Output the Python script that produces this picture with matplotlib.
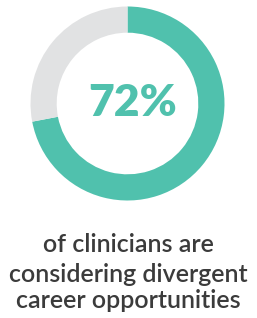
import matplotlib
matplotlib.use("Agg")
import matplotlib.pyplot as plt

# share of clinicians
share = [72, 28]
colors = ['#50c1ad', '#e1e2e3']
headline = '72%'
caption = ['of clinicians are', 'considering divergent', 'career opportunities']

fig = plt.figure(figsize=(2.57, 3.18), dpi=100)
fig.patch.set_facecolor('white')

# donut axes: center (127.5, 103.5) px, radius ~97 px
ax = fig.add_axes([(127.5 - 97) / 257, 1 - (103.5 + 97) / 318, 194 / 257, 194 / 318])
ax.pie(share, colors=colors, startangle=90, counterclock=False,
       wedgeprops=dict(width=0.27, edgecolor='none'), radius=1.0)
ax.set_xlim(-1, 1)
ax.set_ylim(-1, 1)
ax.set_aspect('equal')
ax.axis('off')

ax.text(0.05, 0.0, headline, ha='center', va='center', color=colors[0],
        fontsize=32, fontweight='heavy', family='Lato')

ys = [245, 274, 301]
for line, y in zip(caption, ys):
    fig.text(0.5, 1 - y / 318, line, ha='center', va='center', color='#3b3b3b',
             fontsize=18, fontweight='semibold', family='Lato')

fig.savefig('out.png', dpi=100, facecolor='white')
